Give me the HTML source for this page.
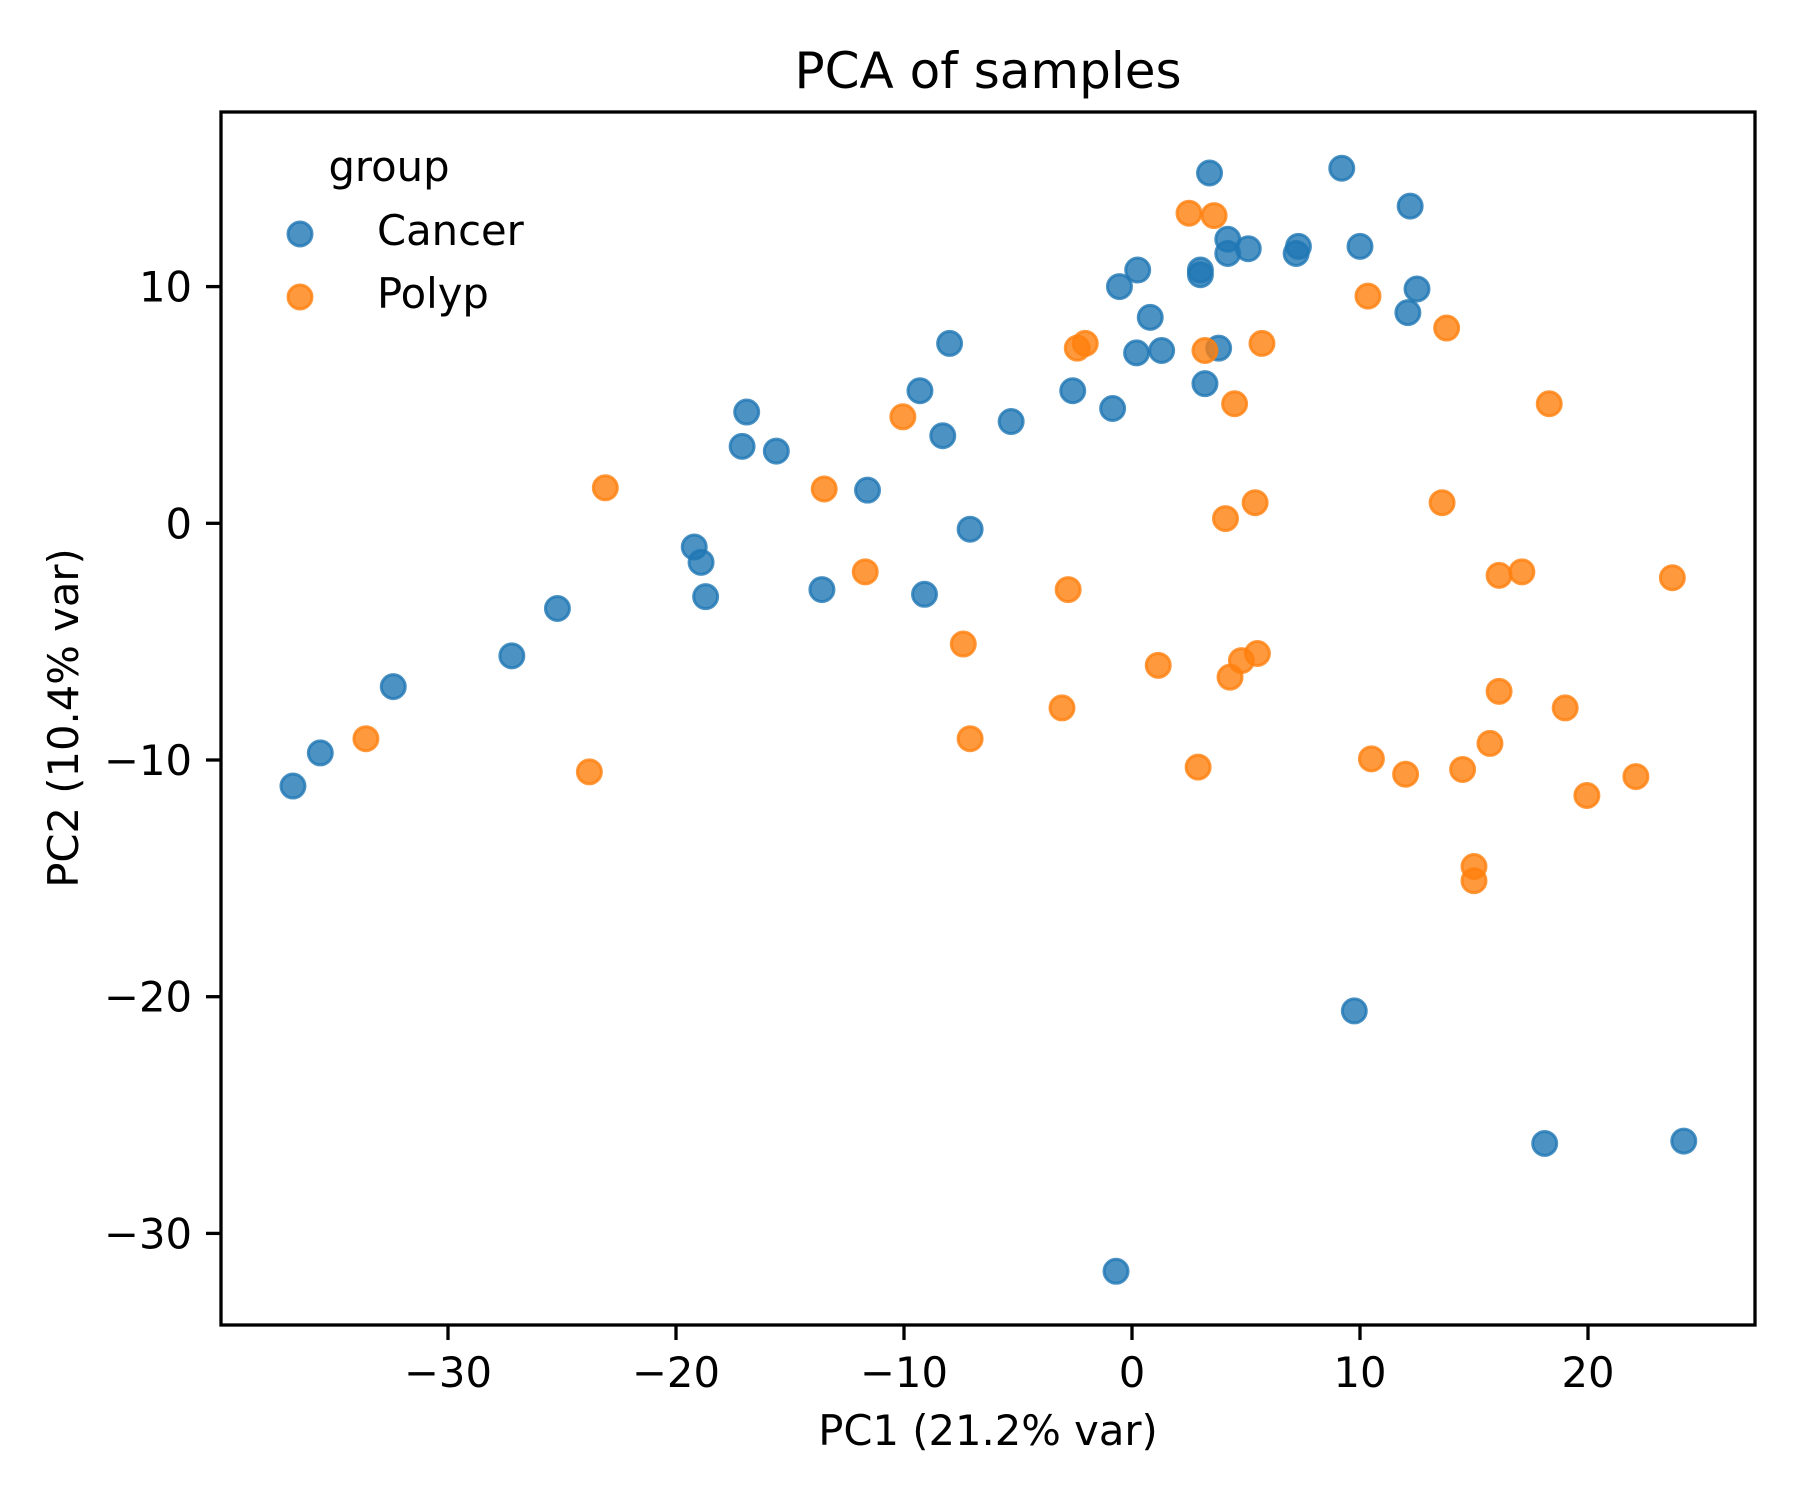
<!DOCTYPE html>
<html><head><meta charset="utf-8"><style>
html,body{margin:0;padding:0;background:#fff;}
svg{display:block;font-family:"DejaVu Sans","Liberation Sans",sans-serif;}
</style></head><body>
<svg id="chart" width="1800" height="1500" viewBox="0 0 1800 1500" xmlns="http://www.w3.org/2000/svg">
<rect width="1800" height="1500" fill="#fff"/>
<text x="988" y="88" font-size="50" text-anchor="middle">PCA of samples</text>
<g id="points"></g>
<rect x="221" y="112" width="1534" height="1213" fill="none" stroke="#000" stroke-width="3.3"/>
<g id="xticks"></g>
<g id="yticks"></g>
<text x="988" y="1445" font-size="41.7" text-anchor="middle">PC1 (21.2% var)</text>
<text transform="translate(78,718) rotate(-90)" font-size="41.7" text-anchor="middle">PC2 (10.4% var)</text>
<g>
<text x="389" y="181" font-size="41.7" text-anchor="middle">group</text>
<g>
<circle cx="300" cy="234" r="12" fill="rgba(31,119,180,0.8)" stroke="rgba(31,119,180,0.8)" stroke-width="3"/>
<text x="377" y="245" font-size="41.7">Cancer</text>
</g>
<g>
<circle cx="300" cy="297" r="12" fill="rgba(255,127,14,0.8)" stroke="rgba(255,127,14,0.8)" stroke-width="3"/>
<text x="377" y="308" font-size="41.7">Polyp</text>
</g>
</g>
</svg>
<script>
const cancerX = [3.4,9.2,12.2,4.2,4.2,5.1,7.3,7.2,10.0,0.25,-0.55,3.0,3.0,12.5,12.1,0.8,0.2,1.3,3.8,-8.0,3.2,-2.6,-9.3,-0.85,-16.9,-5.3,-8.3,-17.1,-15.6,-11.6,-7.1,-19.2,-18.9,-18.7,-13.6,-9.1,-25.2,-27.2,-32.4,-35.6,-36.8,9.75,18.1,24.2,-0.7];
const cancerY = [14.8,15.0,13.4,12.0,11.4,11.6,11.7,11.4,11.7,10.7,10.0,10.7,10.5,9.9,8.9,8.7,7.2,7.3,7.4,7.6,5.9,5.6,5.6,4.85,4.7,4.3,3.7,3.25,3.05,1.4,-0.25,-1.0,-1.65,-3.1,-2.8,-3.0,-3.6,-5.6,-6.9,-9.7,-11.1,-20.6,-26.2,-26.1,-31.6];
const polypX = [2.5,3.6,10.35,13.8,-2.4,-2.05,3.2,5.7,18.3,4.5,-10.05,-23.1,-13.5,5.4,13.6,4.1,-11.7,16.1,17.1,23.7,-2.8,-7.4,1.15,4.8,5.5,4.3,16.1,19.0,-3.07,-33.6,-7.1,15.7,-23.8,2.9,10.5,12.0,14.5,22.1,19.95,15.0,15.0];
const polypY = [13.1,13.0,9.6,8.25,7.4,7.6,7.3,7.6,5.05,5.05,4.5,1.5,1.45,0.87,0.87,0.2,-2.05,-2.2,-2.05,-2.3,-2.8,-5.1,-6.0,-5.8,-5.5,-6.5,-7.1,-7.8,-7.8,-9.1,-9.1,-9.3,-10.5,-10.3,-9.95,-10.6,-10.4,-10.7,-11.5,-14.5,-15.1];
const xTickValues = [-30,-20,-10,0,10,20];
const yTickValues = [-30,-20,-10,0,10];
const xTickLabels = ["\u221230","\u221220","\u221210","0","10","20"];
const yTickLabels = ["\u221230","\u221220","\u221210","0","10"];

const NS = "http://www.w3.org/2000/svg";
function sx(v){ return 1132 + v*22.8; }
function sy(v){ return 523.3 - v*23.67; }
function mk(tag, attrs){ const e=document.createElementNS(NS,tag); for(const k in attrs) e.setAttribute(k,attrs[k]); return e; }

const pts = document.getElementById('points');
function drawSeries(xs, ys, color, name){
  for(let i=0;i<xs.length;i++){
    const c = mk('circle',{cx:sx(xs[i]),cy:sy(ys[i]),r:12,fill:color,stroke:color,'stroke-width':3});
    
    
    pts.appendChild(c);
  }
}
drawSeries(cancerX, cancerY, 'rgba(31,119,180,0.8)', 'cancer');
drawSeries(polypX, polypY, 'rgba(255,127,14,0.8)', 'polyp');

const xg = document.getElementById('xticks');
xTickValues.forEach((v,i)=>{
  const x = sx(v);
  const t = mk('line',{x1:x,x2:x,y1:1325,y2:1340,stroke:'#000','stroke-width':3.3});
  
  
  xg.appendChild(t);
  const l = mk('text',{x:x,y:1387,'font-size':41.7,'text-anchor':'middle'});
  
  
  l.textContent = xTickLabels[i];
  xg.appendChild(l);
});
const yg = document.getElementById('yticks');
yTickValues.forEach((v,i)=>{
  const y = sy(v);
  const t = mk('line',{x1:206,x2:221,y1:y,y2:y,stroke:'#000','stroke-width':3.3});
  
  
  yg.appendChild(t);
  const l = mk('text',{x:192,y:y+15,'font-size':41.7,'text-anchor':'end'});
  
  
  l.textContent = yTickLabels[i];
  yg.appendChild(l);
});
</script>
</body></html>
